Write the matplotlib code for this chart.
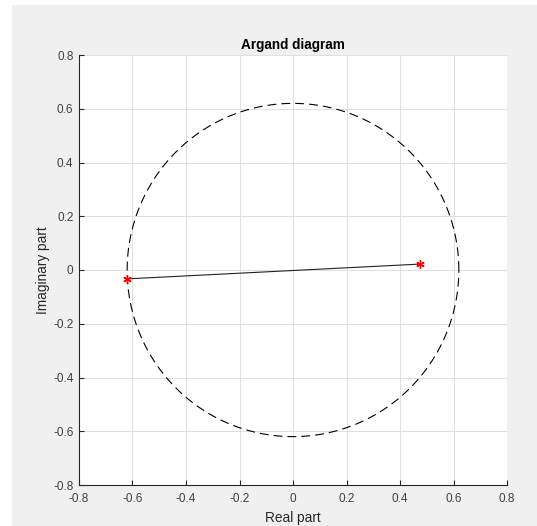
import numpy as np
import matplotlib
matplotlib.use("Agg")
import matplotlib.pyplot as plt
from matplotlib.patches import Rectangle

# Data
roots_re = [-0.62, 0.475]
roots_im = [-0.033, 0.022]
radius = 0.62
xticks = [-0.8, -0.6, -0.4, -0.2, 0, 0.2, 0.4, 0.6, 0.8]
yticks = [-0.8, -0.6, -0.4, -0.2, 0, 0.2, 0.4, 0.6, 0.8]
xticklabels = ["-0.8", "-0.6", "-0.4", "-0.2", "0", "0.2", "0.4", "0.6", "0.8"]
yticklabels = ["-0.8", "-0.6", "-0.4", "-0.2", "0", "0.2", "0.4", "0.6", "0.8"]
title = "Argand diagram"
xlabel = "Real part"
ylabel = "Imaginary part"

plt.rcParams['font.family'] = ['Liberation Sans', 'DejaVu Sans']

W, H = 537, 526
fig = plt.figure(figsize=(W / 100, H / 100), dpi=100, facecolor='white')
fig.patches.append(Rectangle((12 / W, 0), 1 - 12 / W, 1 - 5 / H, transform=fig.transFigure,
                             facecolor='#f0f0f0', edgecolor='none', zorder=-10))

ax = fig.add_axes([79 / W, 41 / H, 428 / W, 430 / H])
ax.set_facecolor('white')

theta = np.linspace(0, 2 * np.pi, 400)
ax.plot(radius * np.cos(theta), radius * np.sin(theta), color='black', lw=0.8,
        linestyle=(0, (8, 4.5)), zorder=3)
ax.plot(roots_re, roots_im, color='#222222', lw=0.8, zorder=3)
ax.plot(roots_re, roots_im, linestyle='none', marker=(6, 2, 0), color='red',
        markersize=6, markeredgewidth=1.0, zorder=4)

ax.set_xlim(-0.8, 0.8)
ax.set_ylim(-0.8, 0.8)
ax.set_xticks(xticks)
ax.set_xticklabels(xticklabels)
ax.set_yticks(yticks)
ax.set_yticklabels(yticklabels)
ax.grid(True, color='#dfdfdf', lw=0.7, zorder=0)
ax.set_axisbelow(True)

for s in ['top', 'right']:
    ax.spines[s].set_visible(False)
for s in ['left', 'bottom']:
    ax.spines[s].set_color('#262626')
    ax.spines[s].set_linewidth(0.8)

ax.tick_params(direction='in', length=3.5, width=0.8, colors='#262626',
               labelsize=8.5, labelcolor='#404040')
ax.tick_params(axis='x', pad=6)
ax.tick_params(axis='y', pad=4)

ax.set_title(title, fontsize=9.8, fontweight='bold', color='black', pad=4)
ax.set_xlabel(xlabel, fontsize=9.8, color='#262626', labelpad=4)
ax.set_ylabel(ylabel, fontsize=9.8, color='#262626', labelpad=2)

fig.savefig('out.png', dpi=100, facecolor=fig.get_facecolor())
